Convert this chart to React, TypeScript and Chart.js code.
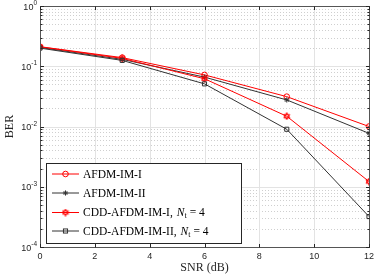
import React, { useEffect, useRef } from "react";
import { Chart, registerables } from "chart.js";

Chart.register(...registerables);

const snr = [0, 3, 6, 9, 12];
const berAfdmImI = [0.211, 0.139, 0.0718, 0.0313, 0.0100];
const berAfdmImII = [0.205, 0.130, 0.0660, 0.0276, 0.0077];
const berCddImI = [0.210, 0.135, 0.0620, 0.0148, 0.00122];
const berCddImII = [0.200, 0.125, 0.0510, 0.0090, 0.00032];
const xTicks = [0, 2, 4, 6, 8, 10, 12];
const yDecades = [0, -1, -2, -3, -4];
const legendNames = ["AFDM-IM-I", "AFDM-IM-II", "CDD-AFDM-IM-I,", "CDD-AFDM-IM-II,"];

const RED = "#ff0000";
const DARK = "#333333";
const AXC = "#262626";

function makeHexagram(): HTMLCanvasElement {
  const c = document.createElement("canvas");
  c.width = 8;
  c.height = 8;
  const g = c.getContext("2d")!;
  const cx = 4, cy = 4, r = 3.4;
  g.strokeStyle = RED;
  g.lineWidth = 1;
  for (let k = 0; k < 2; k++) {
    g.beginPath();
    for (let i = 0; i < 3; i++) {
      const a = -Math.PI / 2 + k * Math.PI + (i * 2 * Math.PI) / 3;
      const px = cx + r * Math.cos(a);
      const py = cy + r * Math.sin(a);
      if (i === 0) g.moveTo(px, py);
      else g.lineTo(px, py);
    }
    g.closePath();
    g.stroke();
  }
  return c;
}

export default function App() {
  const ref = useRef<HTMLCanvasElement | null>(null);

  useEffect(() => {
    const canvas = ref.current!;
    const hex = makeHexagram();
    const styles: any[] = [
      { color: RED, pointStyle: "circle", radius: 2.8 },
      { color: DARK, pointStyle: "star", radius: 2.6 },
      { color: RED, pointStyle: hex, radius: 4 },
      { color: DARK, pointStyle: "rect", radius: 2.9 },
    ];
    const series = [berAfdmImI, berAfdmImII, berCddImI, berCddImII];

    const drawMarker = (ctx: CanvasRenderingContext2D, i: number, x: number, y: number) => {
      const s = styles[i];
      ctx.save();
      ctx.strokeStyle = s.color;
      ctx.fillStyle = s.color;
      ctx.lineWidth = 1;
      if (s.pointStyle === hex) {
        ctx.drawImage(hex, x - 4, y - 4);
      } else if (s.pointStyle === "circle") {
        ctx.beginPath();
        ctx.arc(x, y, s.radius, 0, Math.PI * 2);
        ctx.stroke();
      } else if (s.pointStyle === "star") {
        ctx.beginPath();
        for (let k = 0; k < 4; k++) {
          const a = (k * Math.PI) / 4;
          ctx.moveTo(x - s.radius * Math.cos(a), y - s.radius * Math.sin(a));
          ctx.lineTo(x + s.radius * Math.cos(a), y + s.radius * Math.sin(a));
        }
        ctx.stroke();
      } else {
        const h = s.radius * Math.SQRT1_2;
        ctx.strokeRect(x - h, y - h, 2 * h, 2 * h);
      }
      ctx.restore();
    };

    const plugin = {
      id: "matlabAxes",
      beforeDatasetsDraw(chart: any) {
        const { ctx, chartArea: a, scales } = chart;
        const xs = scales.x, ys = scales.y;
        ctx.save();
        ctx.lineWidth = 1;
        ctx.strokeStyle = "#cfcfcf";
        ctx.setLineDash([1, 2]);
        for (const d of yDecades) {
          if (d === 0) continue;
          for (let m = 2; m <= 9; m++) {
            const y = Math.round(ys.getPixelForValue(m * Math.pow(10, d))) + 0.5;
            ctx.beginPath();
            ctx.moveTo(a.left, y);
            ctx.lineTo(a.right, y);
            ctx.stroke();
          }
        }
        ctx.setLineDash([]);
        ctx.strokeStyle = "#e3e3e3";
        for (const d of yDecades) {
          const y = Math.round(ys.getPixelForValue(Math.pow(10, d))) + 0.5;
          ctx.beginPath();
          ctx.moveTo(a.left, y);
          ctx.lineTo(a.right, y);
          ctx.stroke();
        }
        for (const t of xTicks) {
          const x = Math.round(xs.getPixelForValue(t)) + 0.5;
          ctx.beginPath();
          ctx.moveTo(x, a.top);
          ctx.lineTo(x, a.bottom);
          ctx.stroke();
        }
        ctx.restore();
      },
      afterDatasetsDraw(chart: any) {
        const { ctx, chartArea: a, scales } = chart;
        const xs = scales.x, ys = scales.y;
        ctx.save();
        const L = Math.round(a.left) + 0.5, R = Math.round(a.right) + 0.5;
        const T = Math.round(a.top) + 0.5, B = Math.round(a.bottom) + 0.5;
        ctx.strokeStyle = "#555555";
        ctx.lineWidth = 1;
        ctx.strokeRect(L, T, R - L, B - T);
        ctx.strokeStyle = AXC;
        for (const d of yDecades) {
          const y = Math.round(ys.getPixelForValue(Math.pow(10, d))) + 0.5;
          ctx.beginPath();
          ctx.moveTo(L, y); ctx.lineTo(L + 3.5, y);
          ctx.moveTo(R, y); ctx.lineTo(R - 3.5, y);
          ctx.stroke();
          if (d === 0) continue;
          for (let m = 2; m <= 9; m++) {
            const ym = Math.round(ys.getPixelForValue(m * Math.pow(10, d))) + 0.5;
            ctx.beginPath();
            ctx.moveTo(L, ym); ctx.lineTo(L + 2, ym);
            ctx.moveTo(R, ym); ctx.lineTo(R - 2, ym);
            ctx.stroke();
          }
        }
        for (const t of xTicks) {
          const x = Math.round(xs.getPixelForValue(t)) + 0.5;
          ctx.beginPath();
          ctx.moveTo(x, B); ctx.lineTo(x, B - 3.5);
          ctx.moveTo(x, T); ctx.lineTo(x, T + 3.5);
          ctx.stroke();
        }
        ctx.fillStyle = AXC;
        ctx.font = "9px 'Liberation Sans', Arial, sans-serif";
        ctx.textAlign = "center";
        ctx.textBaseline = "top";
        for (const t of xTicks) {
          ctx.fillText(String(t), xs.getPixelForValue(t), B + 5);
        }
        for (const d of yDecades) {
          const y = ys.getPixelForValue(Math.pow(10, d));
          const exp = d === 0 ? "0" : "-" + Math.abs(d);
          ctx.font = "6.5px 'Liberation Sans', Arial, sans-serif";
          const ew = ctx.measureText(exp).width;
          ctx.textAlign = "left";
          ctx.textBaseline = "alphabetic";
          const ex = L - 3.5 - ew;
          ctx.fillText(exp, ex, y - 1);
          ctx.font = "9px 'Liberation Sans', Arial, sans-serif";
          ctx.textAlign = "right";
          ctx.fillText("10", ex, y + 3.5);
        }
        ctx.font = "12px 'Liberation Serif', 'Times New Roman', serif";
        ctx.fillStyle = AXC;
        ctx.textAlign = "center";
        ctx.textBaseline = "middle";
        ctx.fillText("SNR (dB)", (a.left + a.right) / 2, 268);
        ctx.save();
        ctx.translate(10, (a.top + a.bottom) / 2);
        ctx.rotate(-Math.PI / 2);
        ctx.fillText("BER", 0, 0);
        ctx.restore();
        ctx.restore();
      },
      afterDraw(chart: any) {
        const { ctx } = chart;
        ctx.save();
        const bx = 46.5, by = 163.5, bw = 195, bh = 80;
        ctx.fillStyle = "#ffffff";
        ctx.fillRect(bx, by, bw, bh);
        ctx.strokeStyle = AXC;
        ctx.lineWidth = 1;
        ctx.strokeRect(bx, by, bw, bh);
        const rows = [174, 193, 212.5, 231];
        const font = "11.5px 'Liberation Serif', 'Times New Roman', serif";
        for (let i = 0; i < 4; i++) {
          const y = rows[i];
          ctx.strokeStyle = styles[i].color;
          ctx.lineWidth = 1;
          ctx.beginPath();
          ctx.moveTo(52, y);
          ctx.lineTo(79, y);
          ctx.stroke();
          drawMarker(ctx, i, 65.5, y);
          ctx.fillStyle = "#000000";
          ctx.font = font;
          ctx.textAlign = "left";
          ctx.textBaseline = "middle";
          let x = 83;
          ctx.fillText(legendNames[i], x, y + 0.5);
          if (i >= 2) {
            x += ctx.measureText(legendNames[i]).width + 4;
            ctx.font = "italic 11.5px 'Liberation Serif', 'Times New Roman', serif";
            ctx.fillText("N", x, y + 0.5);
            x += ctx.measureText("N").width;
            ctx.font = "8px 'Liberation Serif', 'Times New Roman', serif";
            ctx.fillText("t", x, y + 3.5);
            x += ctx.measureText("t").width + 3;
            ctx.font = font;
            ctx.fillText("= 4", x, y + 0.5);
          }
        }
        ctx.restore();
      },
    };

    const chart = new Chart(canvas, {
      type: "line",
      data: {
        datasets: series.map((vals, i) => ({
          label: legendNames[i],
          data: snr.map((x, k) => ({ x, y: vals[k] })),
          borderColor: styles[i].color,
          backgroundColor: styles[i].color,
          borderWidth: 1,
          pointStyle: styles[i].pointStyle,
          pointRadius: styles[i].radius,
          pointBorderWidth: 1,
          pointBackgroundColor: "rgba(0,0,0,0)",
          pointBorderColor: styles[i].color,
          tension: 0,
          order: 4 - i,
        })),
      },
      options: {
        responsive: false,
        animation: false,
        devicePixelRatio: 1,
        layout: { padding: { left: 40, top: 6, right: 19, bottom: 30 } },
        plugins: { legend: { display: false }, tooltip: { enabled: false } },
        scales: {
          x: { type: "linear", min: 0, max: 12, display: false },
          y: { type: "logarithmic", min: 1e-4, max: 1, display: false },
        },
      },
      plugins: [plugin],
    } as any);
    return () => chart.destroy();
  }, []);

  return (
    <div style={{ position: "absolute", left: 0, top: 0, width: 388, height: 277, background: "#fff" }}>
      <canvas ref={ref} width={388} height={277} />
    </div>
  );
}
